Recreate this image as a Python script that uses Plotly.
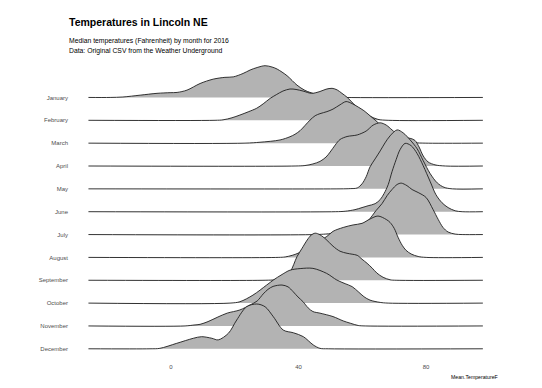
import plotly.graph_objects as go

months = ["January", "February", "March", "April", "May", "June",
          "July", "August", "September", "October", "November", "December"]

# data range covered by every density (deg F)
x_min, x_max = -25.9, 97.8

# temperature (F) and ridge height (in row units)
jan_t = [-19.1, -15.1, -9.7, -4.4, -0.3, 1.9, 5.0, 9.1, 13.2, 16.9, 19.5, 22.6, 24.8, 27.0, 29.5, 31.7, 33.3, 36.4, 39.5, 42.0, 45.2, 48.3, 51.5, 54.6]
jan_h = [0, 0.02, 0.10, 0.18, 0.21, 0.22, 0.32, 0.61, 0.80, 0.88, 0.90, 1.05, 1.20, 1.31, 1.39, 1.33, 1.24, 0.95, 0.54, 0.31, 0.15, 0.07, 0.02, 0]

feb_t = [13.8, 16.3, 19.1, 21.6, 24.2, 26.9, 28.9, 31.1, 33.0, 35.1, 37.3, 39.2, 41.4, 44.1, 46.7, 48.6, 50.5, 52.1, 53.6, 55.2, 57.7, 59.9, 62.4, 64.9, 68.1]
feb_h = [0, 0.02, 0.11, 0.23, 0.37, 0.53, 0.72, 0.96, 1.12, 1.28, 1.37, 1.35, 1.28, 1.18, 1.26, 1.36, 1.40, 1.33, 1.18, 1.01, 0.66, 0.39, 0.18, 0.04, 0]

mar_t = [23.2, 27.9, 34.2, 37.3, 38.9, 40.5, 42.0, 43.6, 45.2, 46.7, 48.9, 50.8, 53.0, 54.9, 56.8, 58.7, 60.5, 62.4, 64.0, 66.2, 68.7, 71.2, 73.7, 76.5, 79.7]
mar_h = [0, 0.04, 0.14, 0.28, 0.39, 0.55, 0.77, 1.01, 1.20, 1.29, 1.38, 1.49, 1.68, 1.82, 1.73, 1.58, 1.42, 1.20, 1.01, 0.74, 0.44, 0.22, 0.09, 0.02, 0]

apr_t = [38.9, 42.0, 44.5, 46.7, 48.6, 49.9, 51.5, 53.0, 55.2, 58.4, 61.2, 63.4, 65.6, 67.5, 69.3, 71.2, 73.1, 75.0, 76.5, 77.8, 79.1, 80.6, 82.8, 86.0]
apr_h = [0, 0.02, 0.09, 0.20, 0.39, 0.61, 0.92, 1.16, 1.29, 1.36, 1.53, 1.79, 1.89, 1.79, 1.58, 1.36, 1.25, 1.21, 1.12, 0.83, 0.44, 0.18, 0.05, 0]

may_t = [53.0, 56.2, 58.4, 59.9, 61.2, 62.4, 64.0, 65.6, 67.1, 68.7, 70.9, 72.8, 75.0, 77.2, 79.1, 81.3, 83.5, 85.6, 88.2]
may_h = [0, 0.01, 0.04, 0.22, 0.53, 0.96, 1.31, 1.66, 2.01, 2.32, 2.58, 2.45, 2.14, 1.75, 1.23, 0.66, 0.26, 0.07, 0]

jun_t = [51.5, 54.6, 57.7, 59.9, 61.8, 64.0, 65.6, 66.8, 68.1, 69.3, 70.6, 71.8, 73.4, 75.3, 77.2, 79.1, 81.3, 83.1, 85.0, 86.9, 89.1, 91.3]
jun_h = [0, 0.02, 0.09, 0.18, 0.26, 0.35, 0.53, 0.79, 1.18, 1.75, 2.28, 2.71, 2.99, 2.89, 2.54, 2.01, 1.31, 0.74, 0.39, 0.18, 0.04, 0]

jul_t = [45.2, 49.9, 54.6, 57.7, 59.6, 61.8, 64.3, 66.2, 67.8, 69.3, 70.9, 72.2, 74.0, 75.6, 77.5, 80.0, 82.2, 83.8, 85.3, 86.9, 89.1, 91.3]
jul_h = [0, 0.04, 0.13, 0.26, 0.42, 0.61, 1.05, 1.36, 1.71, 1.97, 2.19, 2.25, 2.14, 1.97, 1.84, 1.62, 1.09, 0.66, 0.31, 0.11, 0.02, 0]

aug_t = [33.6, 35.8, 38.0, 39.8, 42.0, 44.2, 46.7, 48.9, 50.8, 54.0, 57.1, 59.9, 62.4, 64.9, 67.5, 68.7, 70.0, 71.2, 72.5, 73.7, 75.3, 77.5, 80.0]
aug_h = [0, 0.02, 0.09, 0.18, 0.35, 0.57, 0.74, 0.92, 1.14, 1.31, 1.42, 1.49, 1.68, 1.81, 1.66, 1.53, 1.27, 0.88, 0.53, 0.31, 0.15, 0.04, 0]

sep_t = [29.5, 32.6, 35.1, 37.3, 39.5, 41.1, 42.7, 43.9, 45.2, 46.7, 48.6, 50.8, 53.0, 55.2, 56.8, 58.4, 59.9, 61.5, 63.1, 64.6, 66.5, 68.7, 70.6]
sep_h = [0, 0.02, 0.09, 0.35, 1.03, 1.40, 1.76, 1.97, 2.06, 1.99, 1.79, 1.49, 1.27, 1.18, 1.14, 1.09, 0.92, 0.74, 0.53, 0.31, 0.13, 0.02, 0]

oct_t = [18.5, 21.6, 25.7, 30.0, 32.1, 34.8, 37.3, 40.5, 44.5, 48.8, 52.0, 54.6, 56.8, 58.7, 60.5, 62.4, 65.6, 68.1]
oct_h = [0, 0.06, 0.35, 0.79, 1.01, 1.25, 1.44, 1.51, 1.52, 1.30, 1.01, 0.85, 0.72, 0.50, 0.28, 0.13, 0.03, 0]

nov_t = [4.4, 7.2, 9.1, 11.6, 14.7, 17.6, 21.6, 24.8, 27.0, 28.9, 30.4, 32.0, 34.8, 36.7, 38.3, 39.8, 41.4, 43.0, 44.5, 46.7, 50.8, 54.0, 56.2, 58.7, 60.9]
nov_h = [0, 0.04, 0.07, 0.19, 0.39, 0.56, 0.70, 0.92, 1.09, 1.40, 1.60, 1.73, 1.79, 1.71, 1.50, 1.27, 1.06, 0.79, 0.63, 0.56, 0.41, 0.22, 0.12, 0.02, 0]

dec_t = [-6.6, -3.5, 1.8, 7.0, 9.6, 12.8, 14.8, 18.0, 20.6, 23.7, 26.9, 29.5, 32.1, 35.2, 38.4, 41.5, 44.6, 46.7, 49.3]
dec_h = [0, 0.02, 0.24, 0.46, 0.53, 0.46, 0.39, 0.68, 1.26, 1.84, 1.96, 1.84, 1.40, 0.82, 0.70, 0.53, 0.17, 0.02, 0]

series_t = [jan_t, feb_t, mar_t, apr_t, may_t, jun_t, jul_t, aug_t, sep_t, oct_t, nov_t, dec_t]
series_h = [jan_h, feb_h, mar_h, apr_h, may_h, jun_h, jul_h, aug_h, sep_h, oct_h, nov_h, dec_h]

x_ticks = [0, 40, 80]

title = "Temperatures in Lincoln NE"
subtitle1 = "Median temperatures (Fahrenheit) by month for 2016"
subtitle2 = "Data: Original CSV from the Weather Underground"
x_title = "Mean.TemperatureF"

n = len(months)
fig = go.Figure()
for i, (m, t, h) in enumerate(zip(months, series_t, series_h)):
    r = n - 1 - i
    xs = [x_min] + list(t) + [x_max]
    ys = [r] + [r + v for v in h] + [r]
    fig.add_trace(go.Scatter(x=xs, y=ys, mode="lines", name=m,
                             line=dict(color="#1e1e1e", width=0.9, shape="spline", smoothing=0.9),
                             fill="toself", fillcolor="#b3b3b3", showlegend=False,
                             hoverinfo="skip"))

PLOT_L, PLOT_R = 69, 502
PLOT_TOP, PLOT_BOT = 55, 362
H = PLOT_BOT - PLOT_TOP
W = PLOT_R - PLOT_L

def py(px):
    return (PLOT_BOT - px) / H

def pxp(px):
    return (px - PLOT_L) / W

font = "Liberation Sans, Arial, sans-serif"
fig.update_layout(
    width=542, height=388,
    margin=dict(l=PLOT_L, r=542 - PLOT_R, t=PLOT_TOP, b=388 - PLOT_BOT, pad=0),
    paper_bgcolor="white", plot_bgcolor="white",
    font=dict(family=font),
    hovermode=False,
    xaxis=dict(range=[-32.0, 103.8], tickvals=x_ticks, ticktext=[str(v) for v in x_ticks],
               showgrid=False, zeroline=False, showline=False, ticks="",
               tickfont=dict(size=6, color="#4d4d4d"), fixedrange=True),
    yaxis=dict(range=[-0.578, 12.858], tickvals=[n - 1 - i for i in range(n)], ticktext=months,
               showgrid=False, zeroline=False, showline=False, ticks="",
               tickfont=dict(size=6, color="#4d4d4d"), fixedrange=True),
    annotations=[
        dict(text="<b>" + title + "</b>", x=pxp(67), y=py(22.5), xref="paper", yref="paper",
             xanchor="left", yanchor="middle", showarrow=False,
             font=dict(size=10.5, color="black", family=font)),
        dict(text=subtitle1, x=pxp(67), y=py(41), xref="paper", yref="paper",
             xanchor="left", yanchor="middle", showarrow=False,
             font=dict(size=6.8, color="black", family=font)),
        dict(text=subtitle2, x=pxp(67), y=py(50.5), xref="paper", yref="paper",
             xanchor="left", yanchor="middle", showarrow=False,
             font=dict(size=6.8, color="black", family=font)),
        dict(text=x_title, x=pxp(500), y=py(376.5), xref="paper", yref="paper",
             xanchor="right", yanchor="middle", showarrow=False,
             font=dict(size=5.2, color="black", family=font)),
    ],
)

fig.write_html("out.html", config={"displayModeBar": False, "staticPlot": True},
               post_script="document.body.style.margin='0px';document.body.style.overflow='hidden';")
